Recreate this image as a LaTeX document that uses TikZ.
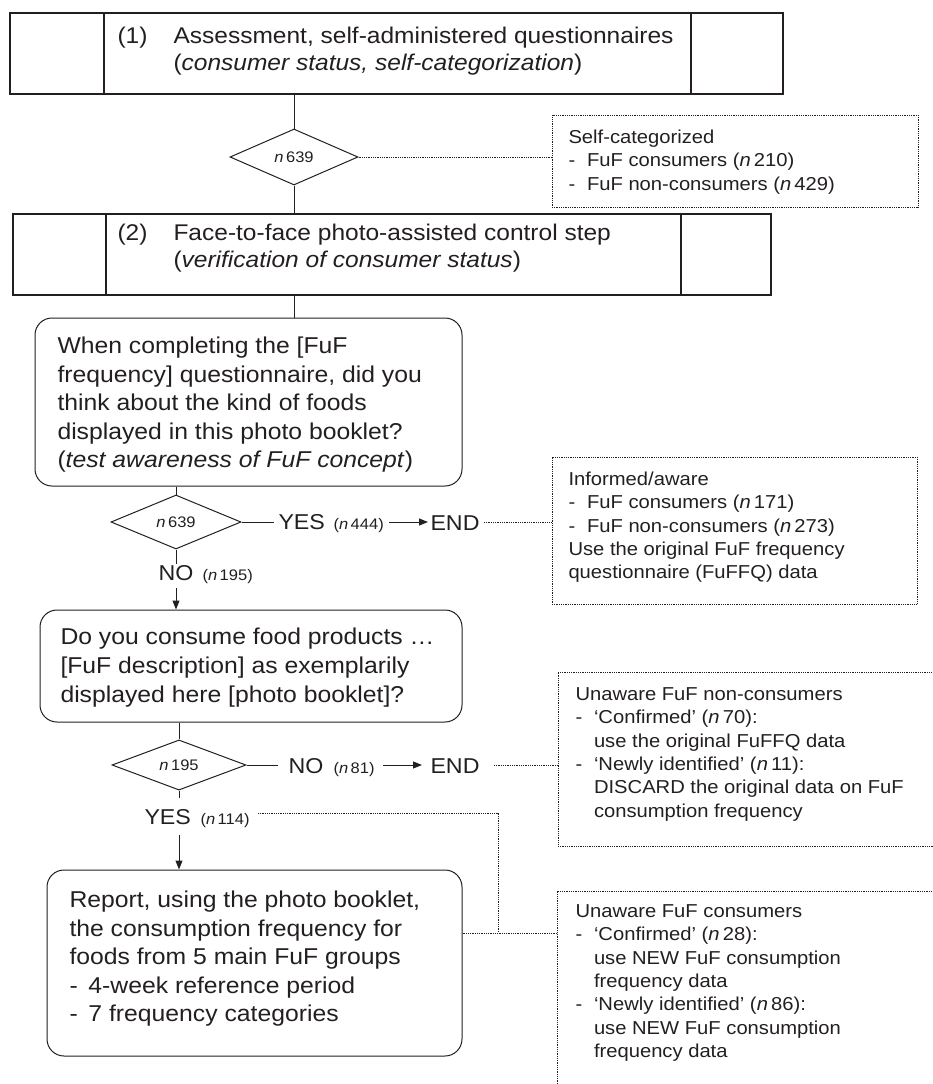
\documentclass[tikz,border=0pt]{standalone}
\usepackage{fontspec}
\setmainfont{Liberation Sans}[FakeStretch=1.08]
\usetikzlibrary{arrows.meta,shapes.geometric,calc}
\definecolor{InkBlack}{RGB}{35,31,32}
\newcommand{\headfs}{\fontsize{22.7}{27}\selectfont}
\newcommand{\bodyfs}{\fontsize{22.9}{28.5}\selectfont}
\newcommand{\notefs}{\fontsize{18.7}{23.3}\selectfont}
\newcommand{\flowfs}{\fontsize{21.5}{24}\selectfont}
\newcommand{\cntfs}{\fontsize{15.3}{18}\selectfont}
\newcommand{\fl}{\rule{0pt}{1em}}
\newcommand{\itm}{\makebox[18.5pt][l]{-}}
\newcommand{\cnt}{\makebox[18.5pt]{}}
\newcommand{\nn}[1]{\textit{n}\,#1}

\begin{document}
\begin{tikzpicture}[x=1pt,y=-1pt,>={Triangle[length=9pt,width=7pt]},
    line width=1pt,color=InkBlack,
    stepbox/.style={draw,rectangle,inner sep=0pt,line width=1.3pt},
    askbox/.style={draw,rectangle,rounded corners=17pt,inner sep=0pt},
    gate/.style={draw,diamond,inner sep=0pt,font=\cntfs},
    notebox/.style={draw,densely dotted,line width=0.8pt,inner sep=0pt},
    txt/.style={anchor=north west,inner sep=0pt,align=left},
    lbl/.style={anchor=base west,inner sep=0pt},
    dots/.style={densely dotted,line width=0.8pt}]
  \useasboundingbox (0,0) rectangle (933,1084);
  \clip (0,0) rectangle (933,1084);
  % boxes
  \node[stepbox,minimum width=773pt,minimum height=81pt] (s1) at (396.5,53.5) {};
  \node[stepbox,minimum width=758pt,minimum height=81pt] (s2) at (392,254.5) {};
  \foreach \x in {104,691} \draw[line width=1.1pt] (\x,0 |- s1.north) -- (\x,0 |- s1.south);
  \foreach \x in {106,681} \draw[line width=1.1pt] (\x,0 |- s2.north) -- (\x,0 |- s2.south);
  \node[askbox,minimum width=427pt,minimum height=168pt] (q1) at (248.5,402) {};
  \node[askbox,minimum width=422pt,minimum height=112pt] (q2) at (251,666) {};
  \node[askbox,minimum width=415pt,minimum height=186pt] (rep) at (254.5,963) {};
  \node[gate,minimum width=128pt,minimum height=56pt] (d1) at (294,157) {\nn{639}};
  \node[gate,minimum width=130pt,minimum height=54pt] (d2) at (176,522) {\nn{639}};
  \node[gate,minimum width=134pt,minimum height=50pt] (d3) at (179,765) {\nn{195}};
  \node[notebox,minimum width=366pt,minimum height=92pt] (n1) at (735,161) {};
  \node[notebox,minimum width=365pt,minimum height=147pt] (n2) at (734.5,530.5) {};
  \node[notebox,minimum width=422pt,minimum height=174pt] (n3) at (769,759) {};
  \node[notebox,minimum width=423pt,minimum height=229pt] (n4) at (768.5,1005.5) {};
  % texts
  \node[txt,font=\headfs] (s1a) at (117,20.3) {\fl(1)};
  \node[txt,font=\headfs] (s1b) at (173,20.3) {\fl Assessment, self-administered questionnaires\\(\textit{consumer status, self-categorization})};
  \node[txt,font=\headfs] (s2a) at (117,217.3) {\fl(2)};
  \node[txt,font=\headfs] (s2b) at (173,217.3) {\fl Face-to-face photo-assisted control step\\(\textit{verification of consumer status})};
  \node[txt,font=\bodyfs] (q1t) at (57,330.1) {\fl When completing the [FuF\\frequency] questionnaire, did you\\think about the kind of foods\\displayed in this photo booklet?\\(\textit{test awareness of FuF concept})};
  \node[txt,font=\fontsize{22.9}{29}\selectfont] (q2t) at (60,621.1) {\fl Do you consume food products …\\{}[FuF description] as exemplarily\\displayed here [photo booklet]?};
  \node[txt,font=\bodyfs] (rept) at (69,884.1) {\fl Report, using the photo booklet,\\the consumption frequency for\\foods from 5 main FuF groups\\\makebox[19pt][l]{-}4-week reference period\\\makebox[19pt][l]{-}7 frequency categories};
  \node[txt,font=\notefs] (n1t) at (568,124.3) {\fl Self-categorized\\\itm FuF consumers (\nn{210})\\\itm FuF non-consumers (\nn{429})};
  \node[txt,font=\notefs] (n2t) at (568,466.3) {\fl Informed/aware\\\itm FuF consumers (\nn{171})\\\itm FuF non-consumers (\nn{273})\\Use the original FuF frequency\\questionnaire (FuFFQ) data};
  \node[txt,font=\notefs] (n3t) at (575,681.3) {\fl Unaware FuF non-consumers\\\itm ‘Confirmed’ (\nn{70}):\\\cnt use the original FuFFQ data\\\itm ‘Newly identified’ (\nn{11}):\\\cnt DISCARD the original data on FuF\\\cnt consumption frequency};
  \node[txt,font=\notefs] (n4t) at (575,898.3) {\fl Unaware FuF consumers\\\itm ‘Confirmed’ (\nn{28}):\\\cnt use NEW FuF consumption\\\cnt frequency data\\\itm ‘Newly identified’ (\nn{86}):\\\cnt use NEW FuF consumption\\\cnt frequency data};
  % branch labels
  \node[lbl,font=\flowfs] (yes2) at (278,529) {YES};
  \node[lbl,font=\cntfs] (c2) at (333,529) {(\nn{444})};
  \node[lbl,font=\flowfs] (end2) at (430,530) {END};
  \node[anchor=base,inner sep=0pt,font=\flowfs] (no2) at (176,580) {NO};
  \node[lbl,font=\cntfs] (c2b) at (202,580) {(\nn{195})};
  \node[lbl,font=\flowfs] (no3) at (288,773) {NO};
  \node[lbl,font=\cntfs] (c3) at (333,773) {(\nn{81})};
  \node[lbl,font=\flowfs] (end3) at (430,773) {END};
  \node[lbl,font=\flowfs] (yes3) at (144,824) {YES};
  \node[lbl,font=\cntfs] (c3b) at (200,824) {(\nn{114})};
  \coordinate (k1) at (498,813);
  \coordinate (k2) at (498,933);
  % connectors
  \draw (d1.north |- s1.south) -- (d1.north);
  \draw (d1.south) -- (d1.south |- s2.north);
  \draw (d1.south |- s2.south) -- (d1.south |- q1.north);
  \draw (d2.north |- q1.south) -- (d2.north);
  \draw[shorten >=4pt] (d2.east) -- (d2.east -| yes2.west);
  \draw[->,shorten <=5pt,shorten >=2pt] (d2.east -| c2.east) -- (d2.east -| end2.west);
  \draw (d2.south) -- (d2.south |- no2.north);
  \draw[->,shorten <=7pt] (no2.south) -- (no2.south |- q2.north);
  \draw (d3.north |- q2.south) -- (d3.north);
  \draw[shorten >=10pt] (d3.east) -- (d3.east -| no3.west);
  \draw[->,shorten <=8pt,shorten >=8pt] (d3.east -| c3.east) -- (d3.east -| end3.west);
  \draw (d3.south) -- ++(0,7);
  \draw[->,shorten <=10pt] (yes3.south -| d3.south) -- (d3.south |- rep.north);
  \draw[dots] (d1.east) -- (d1.east -| n1.west);
  \draw[dots,shorten <=4pt] (end2.east) -- (end2.east -| n2.west);
  \draw[dots,shorten <=14pt] (end3.east) -- (end3.east -| n3.west);
  \draw[dots,shorten <=8pt] (c3b.east |- k1) -- (k1) -- (k2);
  \draw[dots] (rep.east |- k2) -- (k2 -| n4.west);
\end{tikzpicture}
\end{document}
